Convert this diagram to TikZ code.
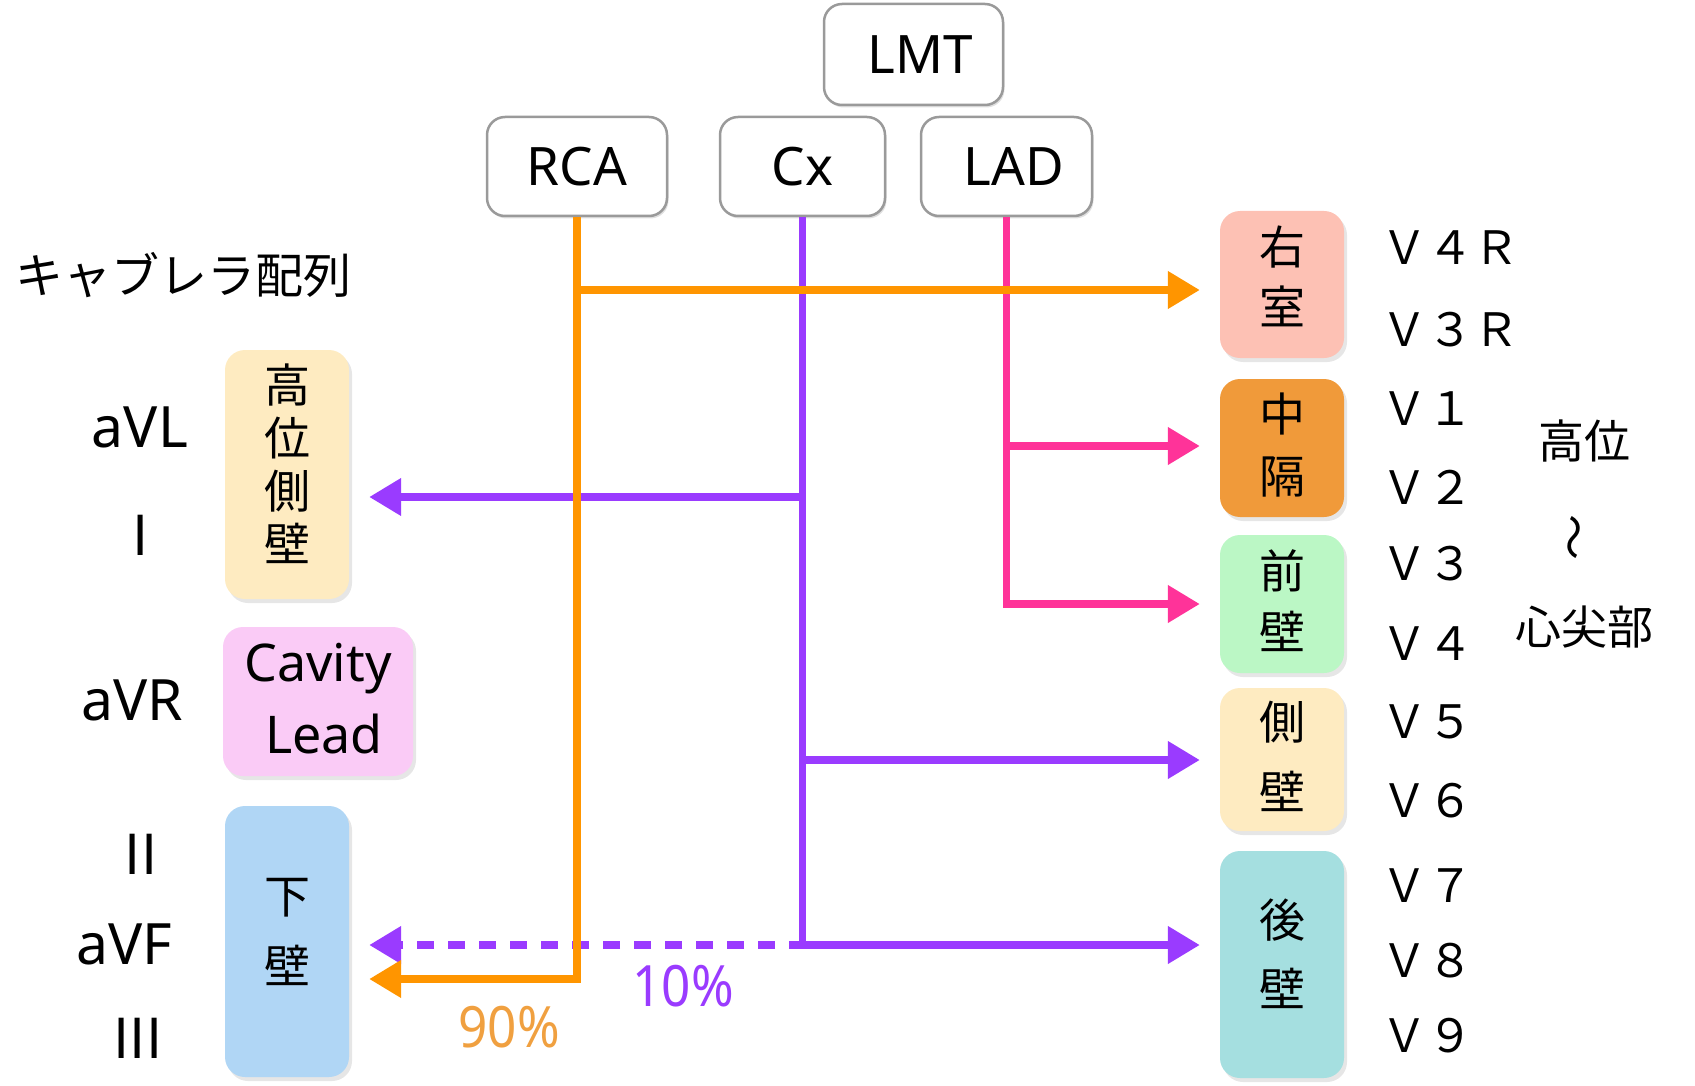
\documentclass[tikz,border=0pt]{standalone}
\usepackage{fontspec}
\setmainfont{Noto Sans CJK JP}
\newfontfamily\latinfont{Noto Sans}
\newfontfamily\pctfont[FakeStretch=0.9]{Noto Sans}
\usetikzlibrary{arrows.meta,shadows}
\definecolor{cOr}{HTML}{FF9500}
\definecolor{cPu}{HTML}{9A3BFF}
\definecolor{cPk}{HTML}{FF3399}
\definecolor{cRV}{HTML}{FDC1B4}
\definecolor{cSP}{HTML}{F09A3A}
\definecolor{cAW}{HTML}{BBF7C5}
\definecolor{cLW}{HTML}{FEEBC1}
\definecolor{cPW}{HTML}{A5DFE0}
\definecolor{cIW}{HTML}{B0D6F5}
\definecolor{cCL}{HTML}{FACBF6}
\definecolor{cPct}{HTML}{F0A040}
\definecolor{cBorder}{HTML}{9A9A9A}
\begin{document}
\begin{tikzpicture}[x=1pt,y=-1pt,
  topbox/.style={draw=cBorder, line width=2.5pt, fill=white, rounded corners=18pt, inner sep=0pt,
    font=\latinfont\fontsize{53}{60}\selectfont,
    drop shadow={shadow xshift=1.5pt,shadow yshift=-2.5pt,opacity=0.25}},
  regbox/.style={rounded corners=20pt, inner sep=0pt,
    drop shadow={shadow xshift=3pt,shadow yshift=-4pt,opacity=0.2}},
  cjk/.style={font=\fontsize{46}{#1}\selectfont, align=center, inner sep=0pt},
  lat/.style={font=\latinfont\fontsize{57}{60}\selectfont},
  rom/.style={font=\fontsize{55}{60}\selectfont},
  vlab/.style={anchor=west, font=\fontsize{46}{56}\selectfont, inner sep=0pt},
  arr/.style={line width=7.5pt, -{Triangle[length=32pt,width=36pt]}},
  oline/.style={draw=cOr, line width=8pt},
  pline/.style={draw=cPu, line width=7pt},
  kline/.style={draw=cPk, line width=7pt},
]
\useasboundingbox (0,0) rectangle (1695,1086);

% top boxes
\node[topbox, minimum width=179pt, minimum height=101pt] (LMT) at (913.5,54.5) {\hspace*{13pt}LMT};
\node[topbox, minimum width=180pt, minimum height=99pt] (RCA) at (577,166.5) {RCA};
\node[topbox, minimum width=165pt, minimum height=99pt] (Cx) at (802.5,166.5) {Cx};
\node[topbox, minimum width=171pt, minimum height=99pt] (LAD) at (1006.5,166.5) {\hspace*{15pt}LAD};

% right boxes
\node[regbox, fill=cRV, minimum width=124pt, minimum height=147pt] (RV) at (1282,284.5) {};
\node[regbox, fill=cSP, minimum width=124pt, minimum height=138pt] (SP) at (1282,448) {};
\node[regbox, fill=cAW, minimum width=124pt, minimum height=138pt] (AW) at (1282,604) {};
\node[regbox, fill=cLW, minimum width=124pt, minimum height=143pt] (LW) at (1282,759.5) {};
\node[regbox, fill=cPW, minimum width=124pt, minimum height=227pt] (PW) at (1282,964.5) {};
\node[cjk=60] (RVt) at ([yshift=8pt]RV.center) {右\\室};
\node[cjk=62] (SPt) at ([yshift=3pt]SP.center) {中\\隔};
\node[cjk=61] (AWt) at ([yshift=3pt]AW.center) {前\\壁};
\node[cjk=70] (LWt) at ([yshift=3pt]LW.center) {側\\壁};
\node[cjk=69] (PWt) at ([yshift=11pt]PW.center) {後\\壁};

% left boxes
\node[regbox, fill=cLW, minimum width=124pt, minimum height=249pt] (HL) at (287,474.5) {};
\node[regbox, fill=cCL, minimum width=190pt, minimum height=149pt] (CL) at (318,701.5) {};
\node[regbox, fill=cIW, minimum width=124pt, minimum height=271pt] (IW) at (287,941.5) {};
\node[cjk=53] (HLt) at ([yshift=11pt]HL.center) {高\\位\\側\\壁};
\node[font=\latinfont\fontsize{52}{72}\selectfont, align=center, inner sep=0pt] (CLt) at ([yshift=3pt]CL.center) {Cavity\\\hspace*{12pt}Lead};
\node[cjk=70] (IWt) at ([yshift=10pt]IW.center) {下\\壁};

% left labels
\node[font=\fontsize{48}{56}\selectfont] (cab) at (184,275) {キャブレラ配列};
\node[lat] (aVL) at (140,427) {aVL};
\node[rom] (LI) at (141,535) {I};
\node[lat] (aVR) at (132,700) {aVR};
\node[rom] (LII) at (141,854) {II};
\node[lat] (aVF) at (124,944) {aVF};
\node[rom] (LIII) at (138,1038) {III};

% right labels
\node[vlab] (v4r) at (1381,248) {Ｖ４Ｒ};
\node[vlab] (v3r) at (1381,330) {Ｖ３Ｒ};
\node[vlab] (v1) at (1381,409) {Ｖ１};
\node[vlab] (v2) at (1381,487) {Ｖ２};
\node[vlab] (v3) at (1381,564) {Ｖ３};
\node[vlab] (v4) at (1381,644) {Ｖ４};
\node[vlab] (v5) at (1381,722) {Ｖ５};
\node[vlab] (v6) at (1381,801) {Ｖ６};
\node[vlab] (v7) at (1381,886) {Ｖ７};
\node[vlab] (v8) at (1381,961) {Ｖ８};
\node[vlab] (v9) at (1381,1036) {Ｖ９};
\node[font=\fontsize{46}{56}\selectfont] (kou) at (1584,441) {高位};
\node[font=\fontsize{46}{56}\selectfont, rotate=90] (nami) at (1580,537) {〜};
\node[font=\fontsize{46}{56}\selectfont] (shin) at (1584,627) {心尖部};

% percentages
\node[font=\pctfont\fontsize{57}{60}\selectfont, text=cPu] (p10) at (683,986) {10\%};
\node[font=\pctfont\fontsize{57}{60}\selectfont, text=cPct] (p90) at (509,1027) {90\%};

% junctions
\coordinate (k1) at (1006.5,446);
\coordinate (k2) at (1006.5,604);
\coordinate (p2) at (802.5,497);
\coordinate (p4) at (802.5,760);
\coordinate (p5) at (802.5,945);
\coordinate (o1) at (577,290);
\coordinate (o2) at (577,979);

% pink (LAD)
\draw[kline] (LAD.south) -- ([yshift=-3.5pt]k2);
\draw[kline, arr, shorten >=20pt] (k1) -- (k1 -| SP.west);
\draw[kline, arr, shorten >=20pt] ([xshift=-3.5pt]k2) -- (k2 -| AW.west);

% purple (Cx)
\draw[pline] (Cx.south) -- ([yshift=-3.5pt]p5);
\draw[pline, arr, shorten >=20pt] (p2) -- (p2 -| HL.east);
\draw[pline, arr, shorten >=20pt] ([xshift=-3.5pt]p4) -- (p4 -| LW.west);
\draw[pline, arr, shorten >=20pt] ([xshift=-3.5pt]p5) -- (p5 -| PW.west);
\draw[pline, arr, shorten >=20pt, dash pattern=on 17pt off 14pt] ([xshift=3.5pt]p5) -- (p5 -| IW.east);

% orange (RCA)
\draw[oline, arr, shorten >=20pt] ([xshift=-4pt]o1) -- (o1 -| RV.west);
\draw[oline, arr, shorten >=20pt] (RCA.south) -- (o2) -- (o2 -| IW.east);
\end{tikzpicture}
\end{document}
